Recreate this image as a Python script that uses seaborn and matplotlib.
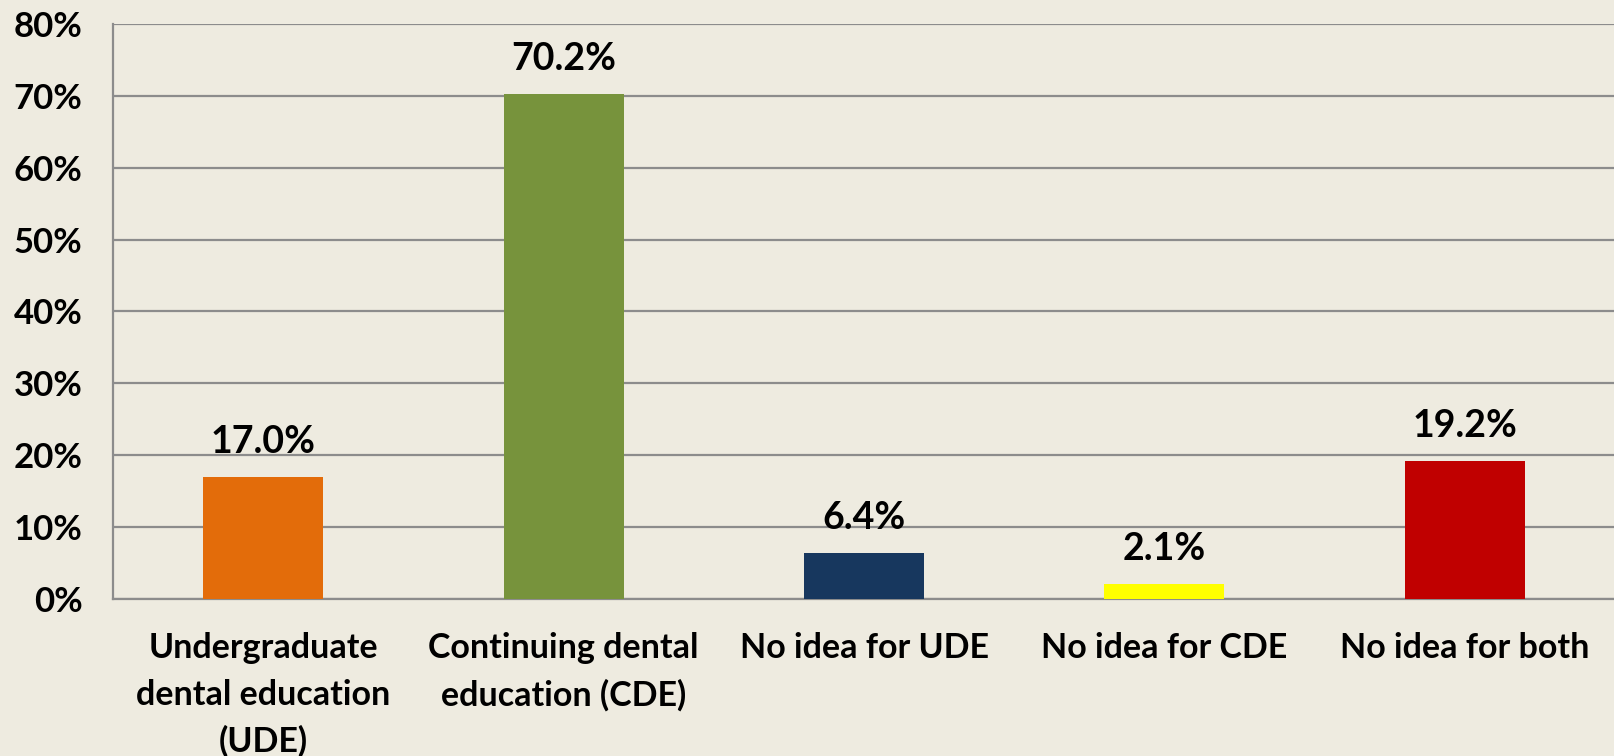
import numpy as np
import pandas as pd
import matplotlib
matplotlib.use("Agg")
import matplotlib.pyplot as plt
import seaborn as sb

categories = ["Undergraduate\ndental education\n(UDE)",
              "Continuing dental\neducation (CDE)",
              "No idea for UDE",
              "No idea for CDE",
              "No idea for both"]
values = [17.0, 70.2, 6.4, 2.1, 19.2]
colors = ["#E36C0A", "#77933C", "#17375E", "#FFFF00", "#C00000"]
yticks = [0, 10, 20, 30, 40, 50, 60, 70, 80]

bg = "#EEEBE0"
grid = "#8C8C8C"

sb.set_style("white")
plt.rcParams['font.family'] = ['Lato', 'DejaVu Sans']
plt.rcParams['font.weight'] = 'bold'
plt.rcParams['text.color'] = 'black'
plt.rcParams['xtick.color'] = 'black'
plt.rcParams['ytick.color'] = 'black'

df = pd.DataFrame({'cat': categories, 'val': values})

fig = plt.figure(figsize=(16.15, 7.56), dpi=100, facecolor=bg)
ax = fig.add_axes([0.07, 0.2077, 0.93, 0.7606])
ax.set_facecolor(bg)

sb.barplot(data=df, x='cat', y='val', hue='cat', palette=colors,
           width=0.4, legend=False, saturation=1, linewidth=0, ax=ax, zorder=3)

ax.set_ylim(0, 80)
ax.set_xlim(-0.5, 4.5)
ax.set_yticks(yticks)
ax.set_yticklabels([f"{t}%" for t in yticks])
ax.set_xticks(range(len(categories)))
ax.set_xticklabels(categories, linespacing=1.55)
ax.yaxis.grid(True, color=grid, linewidth=1.6, zorder=0)
ax.set_axisbelow(True)

for side in ['top', 'right']:
    ax.spines[side].set_visible(False)
for side in ['left', 'bottom']:
    ax.spines[side].set_color(grid)
    ax.spines[side].set_linewidth(1.6)

ax.tick_params(axis='y', length=0, pad=22, labelsize=25)
ax.tick_params(axis='x', length=0, pad=24, labelsize=24.5)
ax.set_xlabel('')
ax.set_ylabel('')

for i, v in enumerate(values):
    ax.annotate(f"{v:.1f}%", (i, v), xytext=(0, 13), textcoords='offset points',
                ha='center', va='bottom', fontsize=27, fontweight='bold')

fig.savefig('out.png', dpi=100, facecolor=bg)
